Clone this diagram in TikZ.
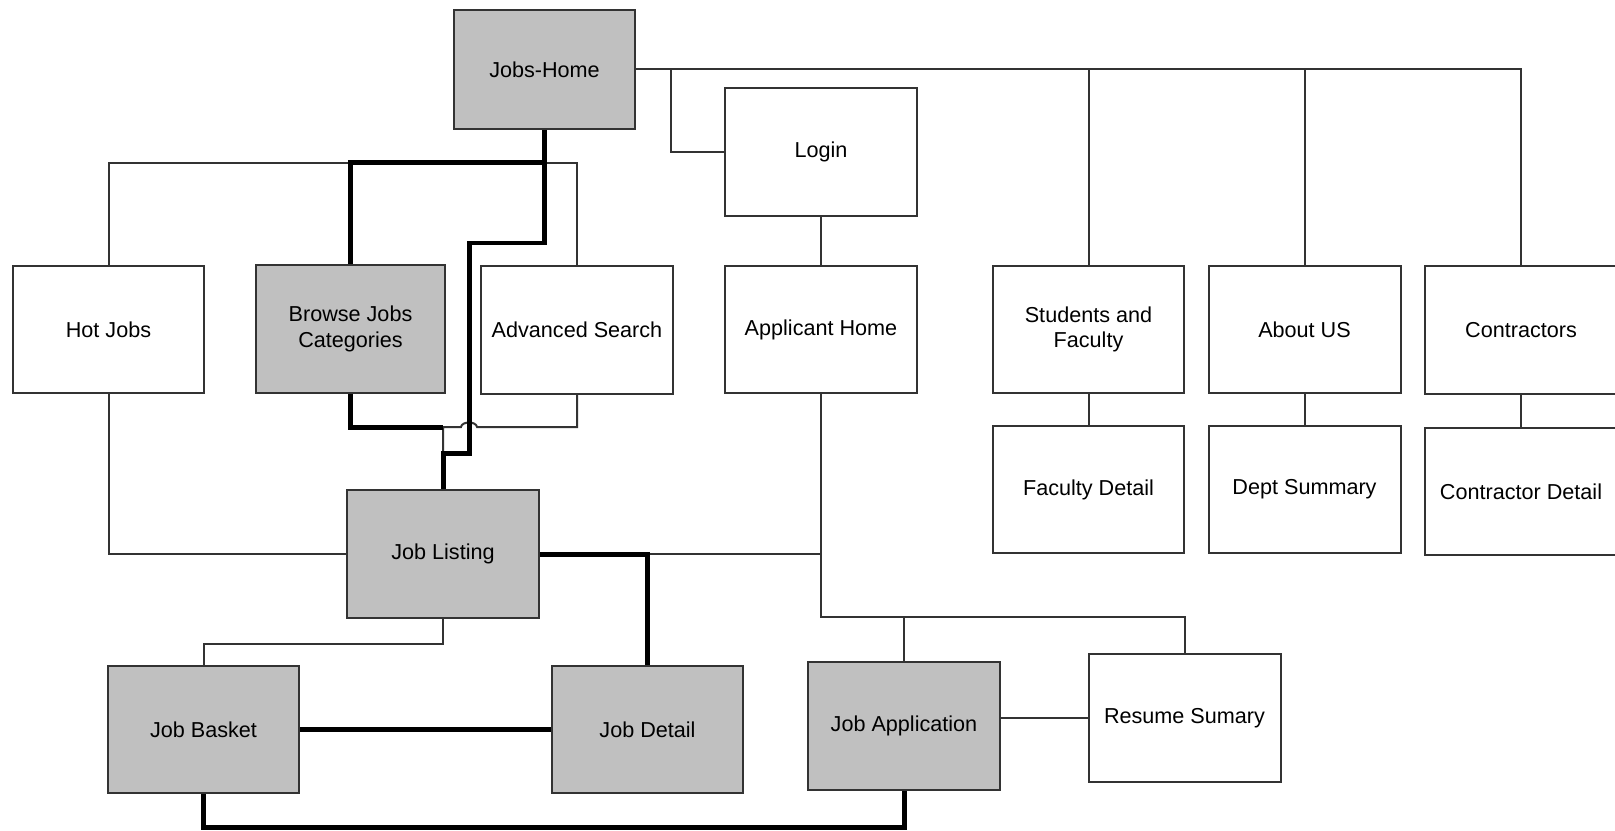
\documentclass[tikz,border=0pt]{standalone}
\usepackage{fontspec}
\setmainfont{Liberation Sans}
\definecolor{boxgray}{RGB}{192,192,192}
\definecolor{edgegray}{RGB}{51,51,51}

\begin{document}
\begin{tikzpicture}[x=0.02cm,y=-0.02cm,
  box/.style={draw=edgegray,line width=0.04cm,minimum width=3.84cm,minimum height=2.56cm,inner sep=1pt,align=center,font=\fontsize{12.3}{14.5}\selectfont},
  gbox/.style={box,fill=boxgray},
  link/.style={line width=0.04cm,draw=edgegray},
  mainlink/.style={line width=0.1cm,draw=black}]
\useasboundingbox (0,0) rectangle (1615,831);

\node[gbox,minimum width=3.62cm,minimum height=2.38cm] (home) at (544.5,69.5) {Jobs-Home};
\node[box] (login) at (821,152) {Login};
\node[box] (hot) at (108.5,329.5) {Hot Jobs};
\node[gbox,minimum width=3.78cm] (browse) at (350.5,329) {Browse Jobs\\Categories};
\node[box] (adv) at (577,330) {Advanced Search};
\node[box] (applicant) at (821,329.5) {Applicant Home};
\node[box] (students) at (1088.5,329.5) {Students and\\Faculty};
\node[box] (about) at (1304.5,329.5) {About US};
\node[box] (contractors) at (1521,330) {Contractors};
\node[box] (faculty) at (1088.5,489.5) {Faculty Detail};
\node[box] (dept) at (1304.5,489.5) {Dept Summary};
\node[box] (contrdetail) at (1521,491.5) {Contractor Detail};
\node[gbox] (listing) at (443,554) {Job Listing};
\node[gbox] (basket) at (203.5,729.5) {Job Basket};
\node[gbox] (detail) at (647.5,729.5) {Job Detail};
\node[gbox] (application) at (904,726) {Job Application};
\node[box] (resume) at (1184.5,718) {Resume Sumary};

\coordinate (tap) at (671,69.5);
\coordinate (hub) at (544.5,163);
\coordinate (bend1) at (469,243);
\coordinate (bend2) at (469,453);
\coordinate (merge) at (443,427);
\coordinate (fork) at (821,617);

\draw[link] (home.east) -| (contractors.north);
\draw[link] (students.north) -- (students.north |- home.east);
\draw[link] (about.north) -- (about.north |- home.east);
\draw[link] (tap) |- (login.west);
\draw[link] (login) -- (applicant);
\draw[link] (students) -- (faculty);
\draw[link] (about) -- (dept);
\draw[link] (contractors) -- (contrdetail);
\draw[link] (hot.north) |- (hub) -| (adv.north);
\draw[link] (adv.south) |- (477,427) .. controls (476,421) and (462,421) .. (461,427) -- (merge) -- (merge |- bend2);
\draw[link] (hot.south) |- (listing.west);
\draw[link] (listing.east) -- (listing.east -| applicant.south);
\draw[link] (applicant.south) -- (fork) -| (resume.north);
\draw[link] (application.north) -- (application.north |- fork);
\draw[link] (application.east |- resume.west) -- (resume.west);
\draw[link] (listing.south) -- ++(0,25) -| (basket.north);

\draw[mainlink] (hub) -| (browse.north);
\draw[mainlink] (home.south) |- (bend1) -- (bend2) -| (listing.north);
\draw[mainlink] (browse.south) |- (merge);
\draw[mainlink] (listing.east) -| (detail.north);
\draw[mainlink] (basket.east) -- (detail.west);
\draw[mainlink] (basket.south) -- ++(0,33) -| (application.south);
\end{tikzpicture}
\end{document}
